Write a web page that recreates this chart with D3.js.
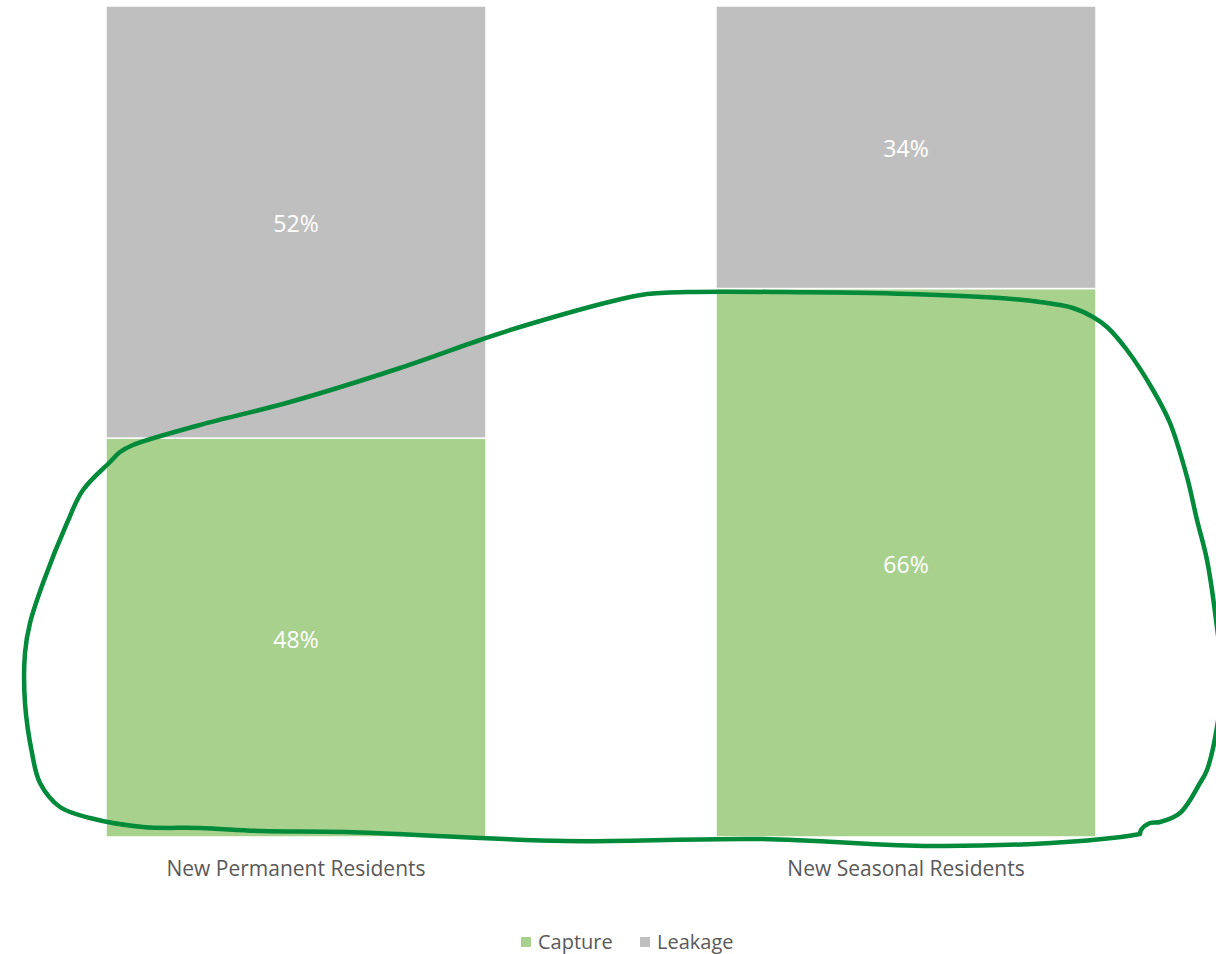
<!DOCTYPE html>
<html>
<head>
<meta charset="utf-8">
<script src="https://cdn.jsdelivr.net/npm/d3@7"></script>
<style>
  html, body { margin: 0; padding: 0; background: #fff; }
  svg { display: block; }
</style>
</head>
<body>
<svg id="chart" width="1216" height="954"></svg>
<script>
// ---- data ----
const categories = ["New Permanent Residents", "New Seasonal Residents"];
const series = ["Capture", "Leakage"];
const capture = [0.48, 0.66];
const leakage = [0.52, 0.34];
const colors = ["#A9D18E", "#BFBFBF"];

// hand-drawn annotation loop (pixel coordinates of the freehand stroke)
const loopPoints = [
  [1140,834],[1121,837],[1051,843],[931,846],[762,839],[565,841],[346,832],[262,831],
  [200,828],[143,827],[90,818],[60,807],[40,783],[32,753],[25,703],[25,653],[30,623],
  [43,583],[67,523],[83,490],[110,462],[120,452],[133,445],[200,425],[290,402],
  [400,368],[480,340],[520,327],[613,301],[647,294],[687,292],[780,292],[910,294],
  [1000,298],[1040,302],[1073,308],[1093,317],[1107,327],[1127,350],[1153,390],
  [1170,423],[1187,477],[1197,520],[1207,560],[1216,620],[1222,680],[1216,733],
  [1207,770],[1200,783],[1180,813],[1160,822],[1150,823],[1141,830],[1140,834]
];

const svg = d3.select("#chart");
const font = "'Open Sans', Lato, sans-serif";

const x = d3.scaleBand().domain(categories).range([106, 1096]).paddingInner(230/610).paddingOuter(0);
const y = d3.scaleLinear().domain([0, 1]).range([837, 6]);

const rows = categories.map((c, i) => ({ cat: c, Capture: capture[i], Leakage: leakage[i] }));
const stacked = d3.stack().keys(series)(rows);
const color = d3.scaleOrdinal().domain(series).range(colors);

const layers = svg.append("g").selectAll("g").data(stacked).join("g")
  .attr("fill", d => color(d.key));

layers.selectAll("rect").data(d => d).join("rect")
  .attr("x", d => x(d.data.cat))
  .attr("width", x.bandwidth())
  .attr("y", d => y(d[1]))
  .attr("height", d => y(d[0]) - y(d[1]))
  .attr("stroke", "#fff")
  .attr("stroke-width", 1.5);

// data labels
layers.selectAll("text").data(d => d).join("text")
  .attr("x", d => x(d.data.cat) + x.bandwidth() / 2)
  .attr("y", d => (y(d[0]) + y(d[1])) / 2 + 2)
  .attr("dy", "0.35em")
  .attr("text-anchor", "middle")
  .attr("fill", "#fff")
  .style("font-family", font)
  .style("font-size", "23px")
  .text(d => d3.format(".0%")(d[1] - d[0]));

// category axis labels
const xAxis = d3.axisBottom(x).tickSize(0).tickPadding(24);
const gx = svg.append("g").attr("transform", "translate(0,837)").call(xAxis);
gx.select(".domain").remove();
gx.selectAll("text")
  .attr("fill", "#595959")
  .style("font-family", font)
  .style("font-size", "21px");

// legend
const legend = svg.append("g").attr("transform", "translate(521,940)");
const legendX = [0, 119];
series.forEach((s, i) => {
  const g = legend.append("g").attr("transform", `translate(${legendX[i]},0)`);
  g.append("rect").attr("x", 0).attr("y", -3).attr("width", 10).attr("height", 10).attr("fill", color(s));
  g.append("text").attr("x", 17).attr("y", 2).attr("dy", "0.35em")
    .attr("fill", "#595959")
    .style("font-family", font)
    .style("font-size", "20px")
    .text(s);
});

// annotation loop
svg.append("path")
  .datum(loopPoints)
  .attr("d", d3.line().curve(d3.curveCatmullRom.alpha(0.5)))
  .attr("fill", "none")
  .attr("stroke", "#008A3A")
  .attr("stroke-width", 4.5)
  .attr("stroke-linecap", "round")
  .attr("stroke-linejoin", "round");
</script>
</body>
</html>
